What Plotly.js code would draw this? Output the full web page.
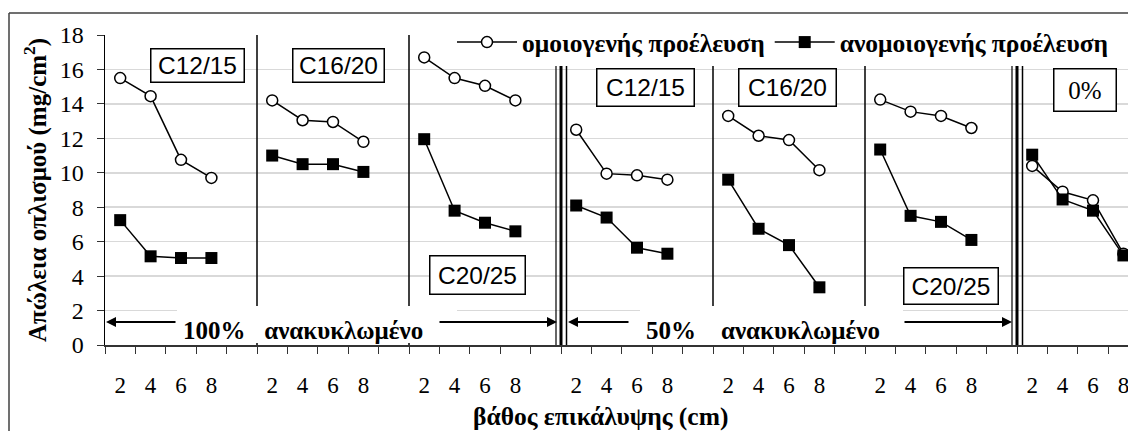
<!DOCTYPE html>
<html><head><meta charset="utf-8">
<script src="https://cdn.plot.ly/plotly-3.0.1.min.js"></script>
<style>html,body{margin:0;padding:0;background:#fff;overflow:hidden}</style>
</head><body><div id="chart" style="width:1128px;height:431px"></div>
<script>
// ---- data ----
const depthLabels = ['2', '4', '6', '8'];
const groupLabels = ['C12/15', 'C16/20', 'C20/25', 'C12/15', 'C16/20', 'C20/25', '0%'];
const recycledLabels = ['100%\u00a0\u00a0 ανακυκλωμένο', '50%\u00a0\u00a0\u00a0 ανακυκλωμένο'];
const seriesNames = ['ομοιογενής προέλευση', 'ανομοιογενής προέλευση'];
const homogeneous = [15.5, 14.45, 10.75, 9.7,  14.2, 13.05, 12.95, 11.8,  16.7, 15.5, 15.05, 14.2,
                     12.5, 9.95, 9.85, 9.6,  13.3, 12.15, 11.9, 10.15,  14.25, 13.55, 13.3, 12.6,
                     10.4, 8.9, 8.4, 5.3];
const heterogeneous = [7.25, 5.15, 5.05, 5.05,  11.0, 10.5, 10.5, 10.05,  11.95, 7.8, 7.1, 6.6,
                       8.1, 7.4, 5.65, 5.3,  9.6, 6.75, 5.8, 3.35,  11.35, 7.5, 7.15, 6.1,
                       11.05, 8.45, 7.8, 5.2];
const yTickValues = [0, 2, 4, 6, 8, 10, 12, 14, 16, 18];

// ---- layout helpers ----
const SLOT = 5; // 4 depths + 1 empty slot per group
const nGroups = groupLabels.length;
function build(vals) {
  const xs = [], ys = [];
  for (let g = 0; g < nGroups; g++) {
    for (let k = 0; k < depthLabels.length; k++) { xs.push(g * SLOT + k); ys.push(vals[g * 4 + k]); }
    xs.push(g * SLOT + 4); ys.push(null);
  }
  return {xs, ys};
}
const tickvals = [], ticktext = [];
for (let g = 0; g < nGroups; g++) for (let k = 0; k < depthLabels.length; k++) { tickvals.push(g * SLOT + k); ticktext.push(depthLabels[k]); }

const serif = '"Liberation Serif", "Times New Roman", "DejaVu Serif", serif';
const sans = '"Liberation Sans", Arial, sans-serif';
const h = build(homogeneous), he = build(heterogeneous);
const traces = [
  {x: h.xs, y: h.ys, name: seriesNames[0], type: 'scatter', mode: 'lines+markers', connectgaps: false,
   line: {color: '#000', width: 1.5},
   marker: {symbol: 'circle', size: 11, color: '#fff', line: {color: '#000', width: 1.5}}},
  {x: he.xs, y: he.ys, name: seriesNames[1], type: 'scatter', mode: 'lines+markers', connectgaps: false,
   line: {color: '#000', width: 1.5},
   marker: {symbol: 'square', size: 12, color: '#000', line: {color: '#000', width: 0}}}
];

const PX = 30.4, L = 105, T = 35, B = 345, PY = 17.22;
const dx = px => (px - L) / PX - 0.5;
const dy = py => (B - py) / PY;
const shapes = [];
// separators
[1, 2, 4, 5].forEach(g => shapes.push({type: 'line', xref: 'x', yref: 'y', x0: g * SLOT - 0.5, x1: g * SLOT - 0.5, y0: 0, y1: 18,
  line: {color: '#000', width: 1.5}}));
[3, 6].forEach(g => {
  const c = g * SLOT - 0.5;
  shapes.push({type: 'line', xref: 'x', yref: 'y', x0: c - 5 / PX, x1: c - 5 / PX, y0: 0, y1: 18, line: {color: '#000', width: 1.2}});
  shapes.push({type: 'line', xref: 'x', yref: 'y', x0: c, x1: c, y0: 0, y1: 18, line: {color: '#000', width: 3}});
  shapes.push({type: 'line', xref: 'x', yref: 'y', x0: c + 5.5 / PX, x1: c + 5.5 / PX, y0: 0, y1: 18, line: {color: '#000', width: 1.5}});
});
// white covers behind the recycled-content labels
shapes.push({type: 'rect', xref: 'x', yref: 'y', x0: dx(177), x1: dx(457), y0: dy(343), y1: dy(306), fillcolor: '#fff', line: {width: 0}});
shapes.push({type: 'rect', xref: 'x', yref: 'y', x0: dx(640), x1: dx(903), y0: dy(346), y1: dy(306), fillcolor: '#fff', line: {width: 0}});
// outer chart frame
const fx = px => (px - L) / 1023, fy = py => (B - py) / 310;
shapes.push({type: 'line', xref: 'paper', yref: 'paper', x0: fx(9), x1: fx(1140), y0: fy(13), y1: fy(13), line: {color: '#404040', width: 1.5}});
shapes.push({type: 'line', xref: 'paper', yref: 'paper', x0: fx(9), x1: fx(9), y0: fy(13), y1: fy(440), line: {color: '#404040', width: 1.5}});

const annotations = [];
const boxPos = [[197.5, 65.5, 95, 35], [338.5, 65.5, 93, 35], [477.5, 275, 97, 40], [645.5, 87.5, 99, 39],
                [787.5, 87.5, 99, 39], [951, 286, 96, 38], [1085, 90, 64, 44]];
groupLabels.forEach((t, i) => {
  const p = boxPos[i];
  annotations.push({xref: 'x', yref: 'y', x: dx(p[0]), y: dy(p[1]), text: t, showarrow: false,
    font: {family: i === 6 ? serif : sans, size: i === 6 ? 25 : 24.5, color: '#000'}, align: 'center',
    bgcolor: '#fff', bordercolor: '#000', borderwidth: 1.5, borderpad: 0, width: p[2] - 3, height: p[3] - 3});
});
annotations.push({xref: 'x', yref: 'y', x: dx(303), y: dy(330), text: recycledLabels[0], showarrow: false,
  font: {family: serif, size: 25, color: '#000', weight: 'bold'}});
annotations.push({xref: 'x', yref: 'y', x: dx(763), y: dy(330), text: recycledLabels[1], showarrow: false,
  font: {family: serif, size: 25, color: '#000', weight: 'bold'}});
// arrows
[[177, 106], [438, 557], [630, 568], [903, 1012]].forEach(a => {
  annotations.push({xref: 'x', yref: 'y', axref: 'x', ayref: 'y', x: dx(a[1]), y: dy(322), ax: dx(a[0]), ay: dy(322),
    text: '', showarrow: true, arrowhead: 2, arrowsize: 1, arrowwidth: 2, arrowcolor: '#000', standoff: 0, startstandoff: 0});
});
// x-axis title
annotations.push({xref: 'paper', yref: 'paper', x: fx(600), y: fy(416), xanchor: 'center', yanchor: 'middle', showarrow: false,
  text: 'βάθος επικάλυψης (cm)', font: {family: serif, size: 25.5, color: '#000', weight: 'bold'}});

const layout = {
  width: 1128, height: 431,
  margin: {l: L, r: 0, t: T, b: 431 - B},
  paper_bgcolor: '#fff', plot_bgcolor: '#fff',
  showlegend: true,
  legend: {orientation: 'h', x: fx(452), xanchor: 'left', y: fy(19), yanchor: 'top', bgcolor: '#fff',
    font: {family: serif, size: 25.5, color: '#000', weight: 'bold'}, itemwidth: 60, traceorder: 'normal'},
  xaxis: {range: [-0.5, -0.5 + 1023 / PX], tickmode: 'array', tickvals: tickvals, ticktext: ticktext,
    ticks: '', showgrid: false, zeroline: false, showline: true, linecolor: '#333', linewidth: 1.5,
    tickfont: {family: serif, size: 23, color: '#000'}, ticklabelstandoff: 19, ticklabeloverflow: 'allow',
    minor: {tickmode: 'linear', tick0: -0.5, dtick: 1, ticks: 'outside', ticklen: 7, tickcolor: '#333', tickwidth: 1, showgrid: false}},
  yaxis: {range: [0, 18], tickmode: 'array', tickvals: yTickValues, ticks: 'outside', ticklen: 7, tickcolor: '#333',
    showline: true, linecolor: '#000', linewidth: 1.5, gridcolor: '#d9d9d9', gridwidth: 1.5, zeroline: false,
    tickfont: {family: serif, size: 24, color: '#000'}, ticklabelstandoff: 8,
    title: {text: 'Απώλεια οπλισμού (mg/cm<sup>2</sup>)', font: {family: serif, size: 25, color: '#000', weight: 'bold'}, standoff: 6}},
  shapes: shapes,
  annotations: annotations
};
Plotly.newPlot('chart', traces, layout, {displayModeBar: false, staticPlot: true});
</script></body></html>
